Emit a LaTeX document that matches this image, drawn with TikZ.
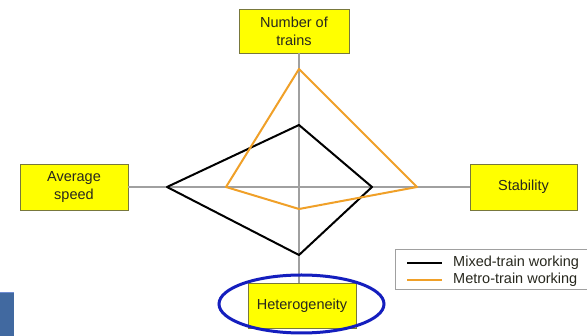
\documentclass[tikz,border=0pt]{standalone}
\usepackage{fontspec}
\setmainfont{Liberation Sans}
\usetikzlibrary{shapes.geometric}
\definecolor{boxyellow}{RGB}{255,255,0}
\definecolor{boxedge}{RGB}{120,120,60}
\definecolor{axisgray}{RGB}{160,160,160}
\definecolor{orangeline}{RGB}{240,160,40}
\definecolor{ringblue}{RGB}{20,30,190}
\definecolor{sideblue}{RGB}{65,105,160}
\definecolor{sideblueedge}{RGB}{110,140,210}
\definecolor{txt}{RGB}{40,40,30}
\tikzset{
  axisbox/.style={draw=boxedge, line width=0.9pt, fill=boxyellow, align=center,
    text=txt, font=\fontsize{14.5}{18}\selectfont, inner sep=0pt},
  axisline/.style={draw=axisgray, line width=1.3pt},
  mixedline/.style={draw=black, line width=2pt, line join=round},
  metroline/.style={draw=orangeline, line width=2pt, line join=round},
  legendtext/.style={anchor=west, text=txt, font=\fontsize{14.5}{17}\selectfont, inner sep=0pt}
}
\begin{document}
\begin{tikzpicture}[x=1pt,y=-1pt]
\clip (0,0) rectangle (587,336);
\fill[white] (0,0) rectangle (587,336);
% boxes
\node[axisbox, minimum width=110pt, minimum height=44pt] (num) at (294,31) {Number of\\trains};
\node[axisbox, minimum width=108pt, minimum height=46pt] (avg) at (74,187) {Average\\speed};
\node[axisbox, minimum width=107pt, minimum height=46pt] (stab) at (523.5,187) {Stability};
\node[axisbox, minimum width=108pt, minimum height=45pt] (het) at (302,305.5) {Heterogeneity};
% axes
\coordinate (c) at (299,187);
\draw[axisline] (c |- num.south) -- (c |- het.north);
\draw[axisline] (avg.east) -- (stab.west);
% mixed-train polygon
\coordinate (mt) at (299,125);
\coordinate (ml) at (167,187);
\coordinate (mb) at (299,255);
\coordinate (mr) at (372,187);
\draw[mixedline] (mt) -- (ml) -- (mb) -- (mr) -- cycle;
% metro-train polygon
\coordinate (ot) at (299,69);
\coordinate (ol) at (226,187);
\coordinate (ob) at (299,209);
\coordinate (or) at (417,187);
\draw[metroline] (ot) -- (ol) -- (ob) -- (or) -- cycle;
% highlight ellipse
\node[ellipse, draw=ringblue, line width=3pt, minimum width=165pt, minimum height=58pt] (ring) at (301.5,304) {};
% legend
\node[draw=axisgray, line width=1pt, minimum width=205pt, minimum height=40pt, anchor=north west, inner sep=0pt] (legend) at (395,249) {};
\coordinate (l1a) at (407,263);
\coordinate (l1b) at (442,263);
\coordinate (l2a) at (407,280);
\coordinate (l2b) at (442,280);
\draw[mixedline] (l1a) -- (l1b);
\draw[metroline] (l2a) -- (l2b);
\node[legendtext] (lt1) at (453,263) {Mixed-train working};
\node[legendtext] (lt2) at (453,280) {Metro-train working};
% side tab
\fill[sideblue] (0,292) rectangle (14,336);
\draw[sideblueedge, line width=1.5pt] (0,292.5) -- (14,292.5);
\end{tikzpicture}
\end{document}
